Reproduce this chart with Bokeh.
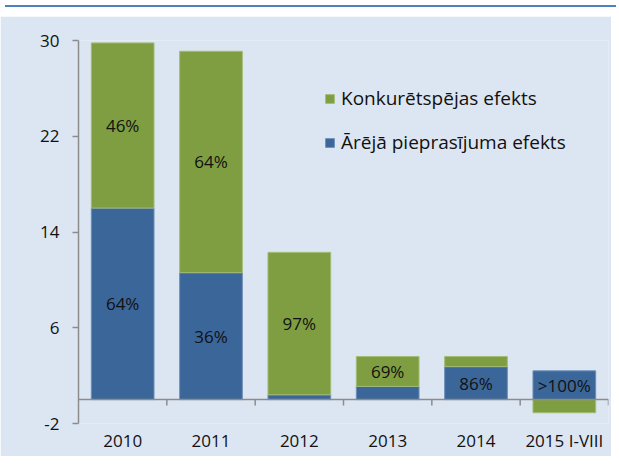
from bokeh.plotting import figure
from bokeh.models import (ColumnDataSource, FixedTicker, Span, Legend, LegendItem,
                          Div, Range1d)
from bokeh.layouts import column
from bokeh.embed import file_html
from bokeh.resources import INLINE
from bokeh.core.properties import value

# ---- data ----
categories = ["2010", "2011", "2012", "2013", "2014", "2015 I-VIII"]
demand_effect = [16.0, 10.6, 0.4, 1.1, 2.75, 2.4]          # Ārējā pieprasījuma efekts (blue)
competitiveness_effect = [13.8, 18.5, 11.9, 2.5, 0.85, -1.1]  # Konkurētspējas efekts (green)
green_labels = ["46%", "64%", "97%", "69%", "", ""]
blue_labels = ["64%", "36%", "", "", "86%", ">100%"]
y_ticks = [-2, 6, 14, 22, 30]

GREEN = "#7F9E41"
BLUE = "#3B6699"
BG = "#DCE6F2"
AXIS = "#8C8C8C"
FONT = "Open Sans"
TXT = "#111111"

n = len(categories)
xs = [i + 0.5 for i in range(n)]
blue_bottom = [0.0] * n
blue_top = demand_effect
green_bottom = [b if g >= 0 else 0.0 for b, g in zip(demand_effect, competitiveness_effect)]
green_top = [gb + g for gb, g in zip(green_bottom, competitiveness_effect)]

src = ColumnDataSource(dict(
    x=xs, bb=blue_bottom, bt=blue_top, gb=green_bottom, gt=green_top,
    gl=green_labels, bl=blue_labels,
    gy=[(a + b) / 2 for a, b in zip(green_bottom, green_top)],
    by=[(a + b) / 2 for a, b in zip(blue_bottom, blue_top)],
))

p = figure(width=611, height=440, output_backend="svg", toolbar_location=None,
           x_range=Range1d(0, n), y_range=Range1d(-2, 30),
           min_border_left=78, min_border_right=3, min_border_top=24, min_border_bottom=33)
p.background_fill_color = BG
p.border_fill_color = BG
p.outline_line_color = None
p.grid.visible = False

rb = p.vbar(x="x", bottom="bb", top="bt", width=0.71, source=src,
            fill_color=BLUE, line_color="#6F8FB8", line_width=1)
rg = p.vbar(x="x", bottom="gb", top="gt", width=0.71, source=src,
            fill_color=GREEN, line_color="#A3BC78", line_width=1)

p.text(x="x", y="gy", text="gl", source=src, text_align="center", text_baseline="middle",
       text_font=value(FONT), text_font_size="17px", text_color=TXT)
p.text(x="x", y="by", text="bl", source=src, text_align="center", text_baseline="middle",
       text_font=value(FONT), text_font_size="17px", text_color=TXT)

# baseline at zero with category boundary ticks
p.add_layout(Span(location=0, dimension="width", line_color=AXIS, line_width=1.5))
bounds = list(range(1, n + 1))
p.segment(x0=bounds, y0=[0] * n, x1=bounds, y1=[-0.5] * n, line_color=AXIS, line_width=1.5)

# y axis
ya = p.yaxis[0]
ya.ticker = FixedTicker(ticks=y_ticks)
ya.major_label_overrides = {t: str(t) for t in y_ticks}
ya.axis_line_color = AXIS
ya.axis_line_width = 1.5
ya.major_tick_line_color = AXIS
ya.major_tick_line_width = 1.5
ya.major_tick_out = 6
ya.major_tick_in = 0
ya.minor_tick_line_color = None
ya.major_label_standoff = 13
ya.major_label_text_font = FONT
ya.major_label_text_font_size = "17px"
ya.major_label_text_color = TXT

# x axis (labels only)
xa = p.xaxis[0]
xa.ticker = FixedTicker(ticks=xs)
xa.major_label_overrides = {x: c for x, c in zip(xs, categories)}
xa.axis_line_color = None
xa.major_tick_line_color = None
xa.minor_tick_line_color = None
xa.major_tick_out = 0
xa.major_tick_in = 0
xa.minor_tick_out = 0
xa.axis_label_standoff = 0
xa.major_label_standoff = 5
xa.major_label_text_font = FONT
xa.major_label_text_font_size = "17px"
xa.major_label_text_color = TXT

legend = Legend(items=[
    LegendItem(label="Konkurētspējas efekts", renderers=[rg]),
    LegendItem(label="Ārējā pieprasījuma efekts", renderers=[rb]),
], location=(246, 268))
legend.background_fill_alpha = 0
legend.border_line_color = None
legend.padding = 0
legend.margin = 0
legend.spacing = 18
legend.glyph_width = 11
legend.glyph_height = 11
legend.label_height = 22
legend.label_standoff = 6
legend.label_text_font = FONT
legend.label_text_font_size = "19px"
legend.label_text_color = TXT
p.add_layout(legend)

top = Div(width=611, height=6, styles={"background-color": "white",
                                       "border-top": "2px solid #4F81BD",
                                       "box-sizing": "border-box"})
layout = column(top, p, spacing=0)

open("out.html", "w").write(file_html(layout, INLINE))
